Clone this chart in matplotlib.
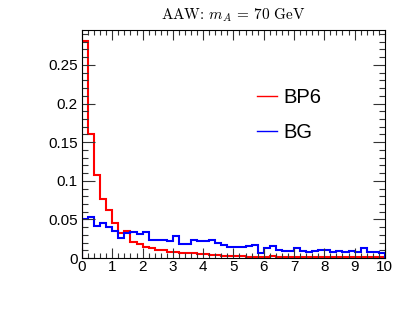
import numpy as np
import matplotlib
matplotlib.use("Agg")
import matplotlib.pyplot as plt
from matplotlib.lines import Line2D
from matplotlib.ticker import MultipleLocator

# 50 bins of width 0.2 between 0 and 10
bin_edges = np.linspace(0, 10, 51)

bp6 = [0.281, 0.160, 0.107, 0.076, 0.062, 0.046, 0.032, 0.035, 0.021, 0.018,
       0.015, 0.013, 0.010, 0.010, 0.008, 0.008, 0.007, 0.006, 0.006, 0.005,
       0.005, 0.004, 0.004, 0.003, 0.003, 0.003, 0.003, 0.002, 0.002, 0.002,
       0.002, 0.003, 0.002, 0.002, 0.001, 0.001, 0.002, 0.001, 0.001, 0.001,
       0.001, 0.001, 0.001, 0.001, 0.001, 0.001, 0.001, 0.001, 0.001, 0.001]

bg = [0.051, 0.053, 0.042, 0.045, 0.040, 0.035, 0.026, 0.032, 0.034, 0.031,
      0.034, 0.024, 0.023, 0.024, 0.022, 0.028, 0.018, 0.018, 0.023, 0.022,
      0.022, 0.024, 0.019, 0.017, 0.014, 0.014, 0.015, 0.016, 0.017, 0.007,
      0.0125, 0.0155, 0.011, 0.0095, 0.0095, 0.013, 0.009, 0.0073, 0.0095, 0.010,
      0.010, 0.008, 0.009, 0.008, 0.009, 0.008, 0.013, 0.008, 0.008, 0.007]

labels = ["BP6", "BG"]
colors = ["#ff0000", "#0000ff"]

plt.rcParams['font.family'] = ['Liberation Sans', 'DejaVu Sans']
plt.rcParams['mathtext.fontset'] = 'cm'

fig = plt.figure(figsize=(4.09, 3.14), dpi=100)
ax = fig.add_axes([0.2005, 0.178, 0.7405, 0.726])

ax.stairs(bp6, bin_edges, color=colors[0], lw=1.5)
ax.stairs(bg, bin_edges, color=colors[1], lw=1.5)

ax.set_xlim(0, 10)
ax.set_ylim(0, 0.295)

ax.xaxis.set_major_locator(MultipleLocator(1))
ax.xaxis.set_minor_locator(MultipleLocator(0.2))
ax.yaxis.set_major_locator(MultipleLocator(0.05))
ax.yaxis.set_minor_locator(MultipleLocator(0.01))
ax.set_yticks([0, 0.05, 0.1, 0.15, 0.2, 0.25])
ax.set_yticklabels(["0", "0.05", "0.1", "0.15", "0.2", "0.25"])

ax.tick_params(which='both', direction='in', top=True, right=True,
               labelsize=11, width=0.8, color='#333333')
ax.tick_params(which='major', axis='y', length=9)
ax.tick_params(which='minor', axis='y', length=4.5)
ax.tick_params(which='major', axis='x', length=7)
ax.tick_params(which='minor', axis='x', length=3.5)
ax.tick_params(axis='x', pad=1.5)
ax.tick_params(axis='y', pad=3)
for s in ax.spines.values():
    s.set_linewidth(0.8)

# serif CM font for the plain text, mathtext for m_A
ax.set_title(r'AAW: $m_A$ = 70 GeV', fontsize=11, pad=8, fontfamily='cmr10')

handles = [Line2D([], [], color=c, lw=1.0) for c in colors]
ax.legend(handles, labels, loc='upper left', bbox_to_anchor=(0.578, 0.745),
          frameon=False, fontsize=14.5, handlelength=1.0, handletextpad=0.3,
          labelspacing=0.77, borderpad=0, borderaxespad=0)

fig.savefig("out.png", dpi=100)
